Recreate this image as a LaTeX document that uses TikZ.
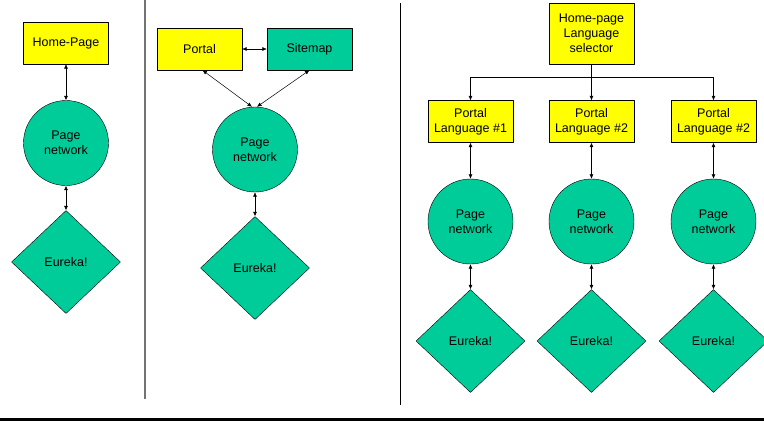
\documentclass[tikz,border=0pt]{standalone}
\usepackage{fontspec}
\setmainfont{Liberation Sans}
\usetikzlibrary{shapes.geometric,arrows.meta}
\definecolor{sitegreen}{RGB}{0,204,153}
\definecolor{siteyellow}{RGB}{255,255,0}
\tikzset{
 pagebox/.style={draw,fill=siteyellow,minimum width=85pt,minimum height=42pt,inner sep=1pt,align=center},
 mapbox/.style={pagebox,fill=sitegreen},
 netcircle/.style={draw,circle,fill=sitegreen,minimum size=85pt,inner sep=0pt,align=center},
 eureka/.style={draw,diamond,fill=sitegreen,minimum width=109pt,minimum height=103pt,inner sep=0pt,aspect=1.06},
 link/.style={<->,line width=.5pt},
}
\begin{document}
\begin{tikzpicture}[x=1pt,y=-1pt,>={Latex[length=4.5pt,width=4pt]},line join=round,
 font=\fontsize{12.5}{15}\selectfont]
 \useasboundingbox (0,0) rectangle (764,421);
 % separators
 \draw[gray!90!black,line width=1.5pt](145,0)--(145,399);
 \draw[line width=1.5pt](400.5,3)--(400.5,405);
 \draw[line width=2.8pt](0,419.5)--(764,419.5);
 % single home page
 \node[pagebox](home) at (66,43){Home-Page};
 \node[netcircle](net1) at (66,143){Page\\network};
 \node[eureka](eur1) at (66,262){Eureka!};
 \draw[link](home)--(net1);
 \draw[link](net1)--(eur1);
 % portal and sitemap
 \node[pagebox](portal) at (199.5,49){Portal};
 \node[mapbox](sitemap) at (309.5,49){Sitemap};
 \node[netcircle](net2) at (255,149.5){Page\\network};
 \node[eureka](eur2) at (255,268){Eureka!};
 \draw[link](portal)--(sitemap);
 \draw[link](portal.south)++(3,0)--([xshift=-3pt]net2.north);
 \draw[link](sitemap.south)--([xshift=2pt]net2.north);
 \draw[link](net2)--(eur2);
 % language selector
 \node[pagebox,minimum height=61pt](lang) at (591.5,33.5){Home-page\\Language\\selector};
 \coordinate (fork) at (591.5,77);
 \foreach \x/\n [count=\i] in {470.5/1,591.5/2,713.5/2}{
  \node[pagebox](portal\i) at (\x,121.5){Portal\\Language \#\n};
  \node[netcircle](net\i) at (\x,221.5){Page\\network};
  \node[eureka](eur\i) at (\x,341){Eureka!};
  \draw[->](lang.south)--(fork)-|(portal\i.north);
  \draw[link](portal\i)--(net\i);
  \draw[link](net\i)--(eur\i);
 }
\end{tikzpicture}
\end{document}
